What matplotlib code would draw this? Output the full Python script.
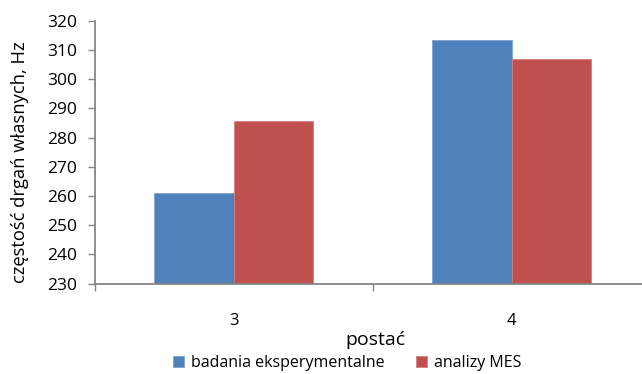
import numpy as np
import matplotlib
matplotlib.use('Agg')
import matplotlib.pyplot as plt

###############################################################################
# DATA
categories = ['3', '4']
badania = [261.1, 313.3]
mes = [285.7, 306.8]
series_names = ['badania eksperymentalne', 'analizy MES']
yticks = [230, 240, 250, 260, 270, 280, 290, 300, 310, 320]

###############################################################################
plt.rcParams['font.family'] = ['Open Sans', 'DejaVu Sans']

W, H = 642, 374
fig = plt.figure(figsize=(W / 100, H / 100), dpi=100)
# axes spans from x=95px to ~650px (right part clipped by figure edge)
ax = fig.add_axes([95 / W, (H - 283.7) / H, 555.4 / W, 263 / H])

x = np.arange(len(categories))
bw = 0.286
ax.bar(x - bw / 2, np.array(badania) - 230, bw, bottom=230, color='#4F81BD',
       edgecolor='#7FA3D0', linewidth=0.6, label=series_names[0])
ax.bar(x + bw / 2, np.array(mes) - 230, bw, bottom=230, color='#C0504D',
       edgecolor='#D08080', linewidth=0.6, label=series_names[1])

ax.set_xlim(-0.5, len(categories) - 0.5)
ax.set_ylim(230, 320)
ax.set_yticks(yticks)
ax.tick_params(axis='y', length=5, width=1, color='#868686', pad=8,
               labelsize=12.5)

# major ticks at category boundaries, labels on minor ticks at centres
ax.set_xticks(np.arange(-0.5, len(categories), 1.0))
ax.set_xticklabels([])
ax.tick_params(axis='x', which='major', length=5, width=1, color='#868686')
ax.set_xticks(x, minor=True)
ax.set_xticklabels(categories, minor=True)
ax.tick_params(axis='x', which='minor', length=0, pad=21, labelsize=12)

for s in ['top', 'right']:
    ax.spines[s].set_visible(False)
for s in ['left', 'bottom']:
    ax.spines[s].set_color('#868686')
    ax.spines[s].set_linewidth(1.3)

fig.text(20 / W, 1 - 162 / H, 'częstość drgań własnych, Hz', rotation=90,
         ha='center', va='center', fontsize=13.2)
fig.text(375 / W, 1 - 340 / H, 'postać', ha='center', va='center',
         fontsize=14)

fig.legend(loc='center', bbox_to_anchor=(347 / W, 1 - 363 / H), ncol=2,
           frameon=False, fontsize=11.5, handlelength=0.7, handleheight=0.7,
           handletextpad=0.4, columnspacing=2.0, borderpad=0)

fig.savefig('out.png', dpi=100)
